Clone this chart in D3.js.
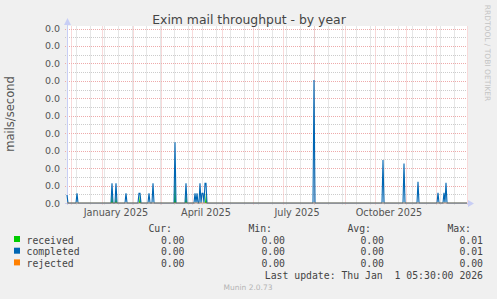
<!DOCTYPE html>
<html><head><meta charset="utf-8">
<script src="https://cdn.jsdelivr.net/npm/d3@7"></script>
<style>
body{margin:0;background:#f0f0f0}
svg{display:block}
</style></head>
<body><svg id="c" width="497" height="299"></svg>
<script>
// ---- data ----
const startDate = "2024-11-27";
const endDate = "2026-01-01";
const completedDates = ["2024-11-27","2024-12-07","2025-01-11","2025-01-15","2025-01-25","2025-02-07","2025-02-08","2025-02-17","2025-02-21","2025-03-15","2025-03-26","2025-04-04","2025-04-06","2025-04-09","2025-04-11","2025-04-12","2025-04-14","2025-04-15","2025-08-01","2025-10-09","2025-10-30","2025-11-13","2025-12-03","2025-12-09","2025-12-11"];
const completedValues = [0.00046,0.00056,0.00113,0.00113,0.00056,0.00056,0.00056,0.00056,0.00113,0.00348,0.00113,0.00056,0.00056,0.00113,0.00056,0.00056,0.00113,0.00113,0.00705,0.00246,0.00227,0.00122,0.00059,0.00059,0.00116];
const receivedDates = ["2025-01-11","2025-01-15","2025-02-08","2025-03-15","2025-03-26","2025-04-15"];
const receivedValues = [0.0006,0.0004,0.0005,0.0017,0.0006,0.0006];
const rejectedValue = 0;
const yTickValues = [0,0.001,0.002,0.003,0.004,0.005,0.006,0.007,0.008,0.009,0.010];
const xLabelTexts = ["January 2025","April 2025","July 2025","October 2025"];
const xLabelDates = ["2025-01-15","2025-04-15","2025-07-15","2025-10-15"];
const seriesNames = ["received","completed","rejected"];
const seriesColors = ["#00cc00","#0066b3","#ff8000"];
const curValues = ["0.00","0.00","0.00"];
const minValues = ["0.00","0.00","0.00"];
const avgValues = ["0.00","0.00","0.00"];
const maxValues = ["0.01","0.01","0.00"];
const lastUpdate = "Last update: Thu Jan  1 05:30:00 2026";

// ---- build daily series ----
const parse = d3.utcParse("%Y-%m-%d");
const days = d3.utcDay.range(parse(startDate), d3.utcDay.offset(parse(endDate), 1));
const cMap = new Map(completedDates.map((d,i)=>[d, completedValues[i]]));
const rMap = new Map(receivedDates.map((d,i)=>[d, receivedValues[i]]));
const fmtKey = d3.utcFormat("%Y-%m-%d");
const series = days.map(d => ({date:d, completed: cMap.get(fmtKey(d)) || 0, received: rMap.get(fmtKey(d)) || 0, rejected: rejectedValue}));

// ---- layout ----
const L = 67, R = 467, T = 28.5, B = 203;
const svg = d3.select("#c");
const x = d3.scaleUtc().domain([parse(startDate), parse(endDate)]).range([L, R]);
const y = d3.scaleLinear().domain([0, 0.01]).range([B, T]);

svg.append("rect").attr("x",0).attr("y",0).attr("width",497).attr("height",299).attr("fill","#f0f0f0");
svg.append("rect").attr("x",L).attr("y",26).attr("width",R-L+1).attr("height",B-26).attr("fill","#ffffff");

const px = v => Math.round(v) + 0.5;
const g = svg.append("g");
// minor horizontal grid
d3.range(0.0005, 0.01, 0.001).forEach(v => {
  g.append("line").attr("x1",L-2).attr("x2",R).attr("y1",px(y(v))).attr("y2",px(y(v)))
   .attr("stroke","#cccccc").attr("stroke-dasharray","1,1");
});
// minor vertical grid (biweekly)
const minorX = d3.range(0, 60).map(i => d3.utcDay.offset(parse("2024-12-06"), 14*i)).filter(d => d <= parse(endDate));
minorX.forEach(d => {
  g.append("line").attr("x1",px(x(d))).attr("x2",px(x(d))).attr("y1",T-2).attr("y2",B+2)
   .attr("stroke","#cccccc").attr("stroke-dasharray","1,1");
});
// major grid
yTickValues.forEach(v => {
  g.append("line").attr("x1",L-2).attr("x2",R).attr("y1",px(y(v))).attr("y2",px(y(v)))
   .attr("stroke","#eeaaaa").attr("stroke-dasharray","1,1");
});
const months = d3.utcMonth.range(parse(startDate), d3.utcDay.offset(parse(endDate),1));
months.forEach(d => {
  g.append("line").attr("x1",px(x(d))).attr("x2",px(x(d))).attr("y1",T-2).attr("y2",B+2)
   .attr("stroke","#f0b4b4").attr("stroke-dasharray","1,1");
});

// axes lines
svg.append("line").attr("x1",L+0.5).attr("x2",L+0.5).attr("y1",22).attr("y2",B+2).attr("stroke","#c8cef5");
svg.append("line").attr("x1",L-2).attr("x2",R+2).attr("y1",B+0.5).attr("y2",B+0.5).attr("stroke","#c8cef5");
svg.append("path").attr("d",`M${L+0.5},18 L${L-3},25 L${L+4},25 Z`).attr("fill","#c8cef5");
svg.append("path").attr("d",`M${R+7},${B+0.5} L${R+1},${B-3} L${R+1},${B+4} Z`).attr("fill","#c8cef5");

// series
const area = d3.area().x(d=>x(d.date)).y0(y(0)).y1(d=>y(d.received));
svg.append("path").datum(series).attr("d",area).attr("fill",seriesColors[0]);
const lineC = d3.line().x(d=>x(d.date)).y(d=>y(d.completed));
svg.append("path").datum(series).attr("d",lineC).attr("fill","none").attr("stroke",seriesColors[1]).attr("stroke-width",1.1);
const lineR = d3.line().x(d=>x(d.date)).y(d=>y(d.rejected));
svg.append("path").datum(series).attr("d",lineR).attr("fill","none").attr("stroke",seriesColors[2]).attr("stroke-width",1).attr("stroke-opacity",0.55);

// y axis labels
const fmt = d3.format(".1f");
svg.append("g").selectAll("text").data(yTickValues).join("text")
  .attr("x",60).attr("y",d=>y(d)+3.5).attr("text-anchor","end")
  .attr("font-family","DejaVu Sans").attr("font-size","9.5px").attr("fill","#555")
  .text(d=>fmt(d));
// x labels
svg.append("g").selectAll("text").data(xLabelTexts).join("text")
  .attr("x",(d,i)=>x(parse(xLabelDates[i]))).attr("y",215.5).attr("text-anchor","middle")
  .attr("font-family","DejaVu Sans").attr("font-size","9.7px").attr("fill","#555")
  .text(d=>d);

// title
svg.append("text").attr("x",249).attr("y",23.5).attr("text-anchor","middle")
  .attr("font-family","DejaVu Sans").attr("font-size","12.4px").attr("fill","#444")
  .text("Exim mail throughput - by year");
// vertical label
svg.append("text").attr("transform","translate(14,114) rotate(-90)").attr("text-anchor","middle")
  .attr("font-family","DejaVu Sans").attr("font-size","11.5px").attr("fill","#555")
  .text("mails/second");
// watermark
svg.append("text").attr("transform","translate(485,53) rotate(90)").attr("text-anchor","middle")
  .attr("font-family","DejaVu Sans").attr("font-size","7.5px").attr("fill","#c4c4c4")
  .text("RRDTOOL / TOBI OETIKER");

// legend
const mono = {"font-family":"DejaVu Sans Mono","font-size":"9.8px","fill":"#444"};
function mtext(xp, yp, s, anchor){
  const t = svg.append("text").attr("x",xp).attr("y",yp).attr("text-anchor",anchor||"start").style("white-space","pre").text(s);
  Object.entries(mono).forEach(([k,v])=>t.attr(k,v));
  return t;
}
mtext(172,231.5,"Cur:","end");
mtext(272,231.5,"Min:","end");
mtext(371,231.5,"Avg:","end");
mtext(471,231.5,"Max:","end");
const rowY = [243.5,255.2,266.9];
seriesNames.forEach((n,i)=>{
  svg.append("rect").attr("x",14).attr("y",rowY[i]-7.5).attr("width",6).attr("height",6).attr("fill",seriesColors[i]);
  mtext(26.5,rowY[i],n);
  mtext(184.5,rowY[i],curValues[i],"end");
  mtext(285,rowY[i],minValues[i],"end");
  mtext(384,rowY[i],avgValues[i],"end");
  mtext(483,rowY[i],maxValues[i],"end");
});
mtext(483,278.8,lastUpdate,"end");
svg.append("text").attr("x",248).attr("y",290).attr("text-anchor","middle")
  .attr("font-family","DejaVu Sans").attr("font-size","7.5px").attr("fill","#b4b4b4")
  .text("Munin 2.0.73");
</script></body></html>
